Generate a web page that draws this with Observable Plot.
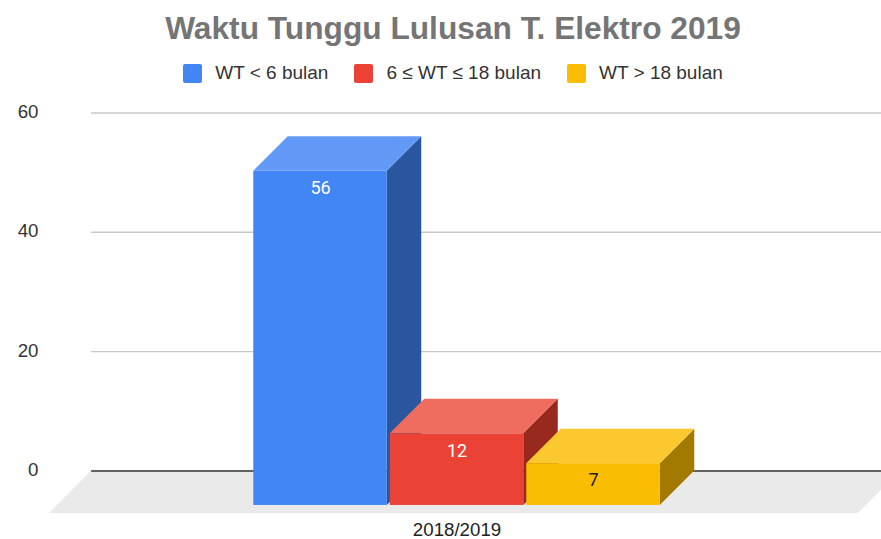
<!DOCTYPE html>
<html>
<head>
<meta charset="utf-8">
<script src="https://cdn.jsdelivr.net/npm/d3@7"></script>
<script src="https://cdn.jsdelivr.net/npm/@observablehq/plot@0.6"></script>
<style>
  html, body { margin: 0; padding: 0; background: #fff; overflow: hidden; }
  body { width: 881px; height: 539px; }
  h1 { margin: 0; height: 56px; padding-left: 25px; text-align: center; font: bold 31.7px/56px "Liberation Sans", Arial, sans-serif; color: #757575; }
  #legend { display: flex; justify-content: center; align-items: center; height: 34px; padding-left: 25px; font: 19px "Liberation Sans", Arial, sans-serif; color: #333; }
  .item { display: flex; align-items: center; margin: 0 13px; }
  .swatch { width: 19px; height: 19px; border-radius: 2px; margin-right: 13px; }
  svg { display: block; }
</style>
</head>
<body>
<h1 id="title"></h1>
<div id="legend"></div>
<div id="chart"></div>
<script>
const title = "Waktu Tunggu Lulusan T. Elektro 2019";
const period = "2018/2019";
const categories = ["WT < 6 bulan", "6 ≤ WT ≤ 18 bulan", "WT > 18 bulan"];
const values = [56, 12, 7];
const slots = [-1, 0, 1];
const frontColors = ["#4285F4", "#EA4335", "#FBBC04"];
const topColors = ["#6299F6", "#EE6C5D", "#FBC92F"];
const sideColors = ["#29569F", "#98291F", "#A37A00"];
const labelColors = ["#ffffff", "#ffffff", "#222222"];
const yTicks = [0, 20, 40, 60];

// The 3D box: how far a bar's back plane sits from its front, in scale units
const depthX = 0.2527, depthY = 5.78, barWidth = 0.978;
const floorFront = -7.13, xMin = -3.3443, xMax = 3.1097;
const xStart = -2.677, floorBackRight = 3.25, floorFrontLeft = -2.985, floorFrontRight = 2.94;
const textFont = '"Liberation Sans", Arial, sans-serif';

document.getElementById("title").textContent = title;
const legend = document.getElementById("legend");
categories.forEach((c, i) => {
  const item = document.createElement("div");
  item.className = "item";
  const s = document.createElement("div");
  s.className = "swatch";
  s.style.background = frontColors[i];
  const t = document.createElement("span");
  t.textContent = c;
  item.append(s, t);
  legend.append(item);
});

const rows = categories.map((c, i) => ({category: c, value: values[i], slot: slots[i]}));
const floor = [
  {y: 0, x1: xStart, x2: floorBackRight},
  {y: floorFront, x1: floorFrontLeft, x2: floorFrontRight}
];

const boxMarks = rows.flatMap((d, i) => {
  const left = d.slot - barWidth / 2, right = d.slot + barWidth / 2;
  const side = [
    {x: right, y1: -depthY, y2: d.value - depthY},
    {x: right + depthX, y1: 0, y2: d.value}
  ];
  const top = [
    {y: d.value - depthY, x1: left, x2: right},
    {y: d.value, x1: left + depthX, x2: right + depthX}
  ];
  return [
    Plot.areaY(side, {x: "x", y1: "y1", y2: "y2", fill: sideColors[i]}),
    Plot.areaX(top, {y: "y", x1: "x1", x2: "x2", fill: topColors[i]}),
    Plot.rect([d], {x1: left, x2: right, y1: -depthY, y2: d.value - depthY, fill: frontColors[i]}),
    Plot.text([d], {x: "slot", y: d.value - depthY, text: x => String(x.value), dy: 17, fill: labelColors[i], fontSize: 18, fontFamily: "Roboto, sans-serif"})
  ];
});

const chart = Plot.plot({
  width: 881,
  height: 449,
  marginTop: 22.5,
  marginBottom: 26,
  marginLeft: 0,
  marginRight: 0,
  x: {domain: [xMin, xMax], axis: null},
  y: {domain: [floorFront, 60], axis: null},
  style: {background: "transparent", fontFamily: textFont},
  marks: [
    Plot.areaX(floor, {y: "y", x1: "x1", x2: "x2", fill: "#EAEAEA"}),
    Plot.ruleY(yTicks.filter(t => t !== 0), {y: d => d, x1: xStart, x2: xMax, stroke: "#C8C8C8", strokeWidth: 1.4}),
    Plot.ruleY([0], {x1: xStart, x2: xMax, stroke: "#333333", strokeWidth: 1.4}),
    ...boxMarks,
    Plot.axisY({ticks: yTicks, anchor: "left", tickSize: 0, tickPadding: -38, label: null, fontSize: 18.7, color: "#333333", textAnchor: "end", dy: -1}),
    Plot.axisX({ticks: [0], anchor: "bottom", tickSize: 0, tickPadding: 9, label: null, tickFormat: () => period, fontSize: 18.7, color: "#222222"})
  ]
});
document.getElementById("chart").append(chart);
</script>
</body>
</html>
